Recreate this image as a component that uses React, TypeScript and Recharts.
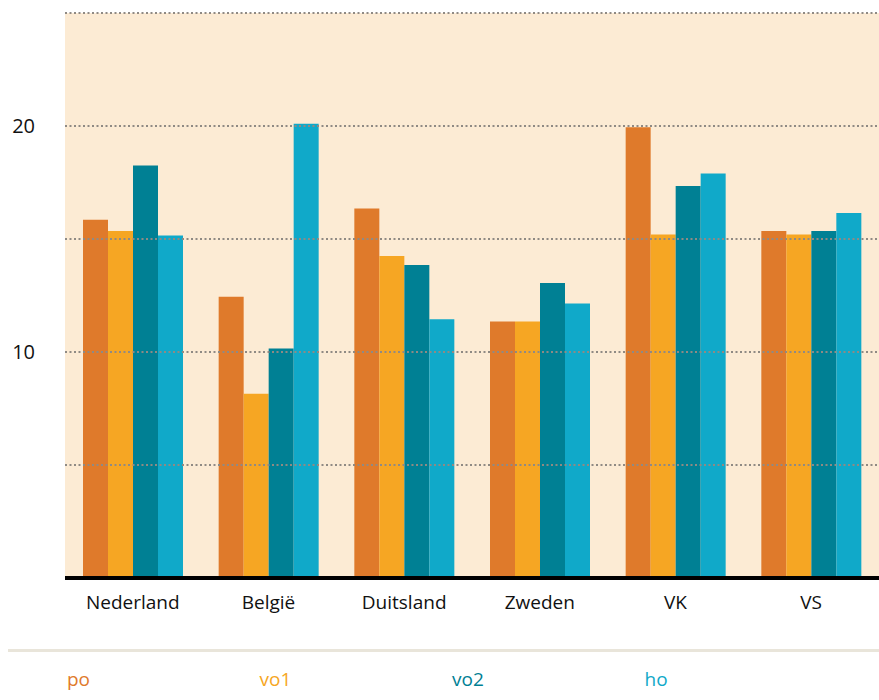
import React from 'react';
import { BarChart, Bar, XAxis, YAxis, CartesianGrid, ReferenceLine } from 'recharts';

const countries = ['Nederland', 'België', 'Duitsland', 'Zweden', 'VK', 'VS'];
const po = [15.85, 12.45, 16.35, 11.35, 19.95, 15.35];
const vo1 = [15.35, 8.15, 14.25, 11.35, 15.2, 15.2];
const vo2 = [18.25, 10.15, 13.85, 13.05, 17.35, 15.35];
const ho = [15.15, 20.1, 11.45, 12.15, 17.9, 16.15];
const yTicks = [10, 20];
const gridLines = [5, 10, 15, 20, 25];

const series = [
  { key: 'po', label: 'po', color: '#df7a2b' },
  { key: 'vo1', label: 'vo1', color: '#f6a623' },
  { key: 'vo2', label: 'vo2', color: '#008094' },
  { key: 'ho', label: 'ho', color: '#10a9c9' },
];

const data = countries.map((name, i) => ({
  name,
  po: po[i],
  vo1: vo1[i],
  vo2: vo2[i],
  ho: ho[i],
}));

const font = '"Open Sans", Lato, sans-serif';

export default function App() {
  return (
    <div style={{ position: 'absolute', left: 0, top: 0, width: 879, height: 700, background: '#fff', fontFamily: font }}>
      <BarChart
        width={879}
        height={640}
        data={data}
        margin={{ top: 13, right: 0, left: 0, bottom: 0 }}
        barGap={0}
        barCategoryGap={18}
      >
        <CartesianGrid fill="#fcebd4" fillOpacity={1} horizontal={false} vertical={false} />
        <XAxis
          dataKey="name"
          height={62}
          tickLine={false}
          axisLine={{ stroke: '#000', strokeWidth: 4 }}
          tick={{ fill: '#111', fontSize: 19, fontFamily: font }}
          tickMargin={12}
        />
        <YAxis
          width={65}
          domain={[0, 25]}
          ticks={yTicks}
          axisLine={false}
          tickLine={false}
          tickSize={0}
          tickMargin={30}
          tick={{ fill: '#111', fontSize: 20, fontFamily: font }}
        />
        {series.map((s) => (
          <Bar key={s.key} dataKey={s.key} fill={s.color} isAnimationActive={false} />
        ))}
        {gridLines.map((v) => (
          <ReferenceLine key={v} y={v} stroke="#8f8a84" strokeWidth={2} strokeDasharray="2 2.5" />
        ))}
      </BarChart>
      <div style={{ position: 'absolute', left: 8, top: 649, width: 871, height: 3, background: '#e9e5da' }} />
      {series.map((s, i) => (
        <div
          key={s.key}
          style={{
            position: 'absolute',
            left: 67 + i * 192.5,
            top: 666,
            fontSize: 19,
            color: s.color,
            lineHeight: '26px',
          }}
        >
          {s.label}
        </div>
      ))}
    </div>
  );
}
